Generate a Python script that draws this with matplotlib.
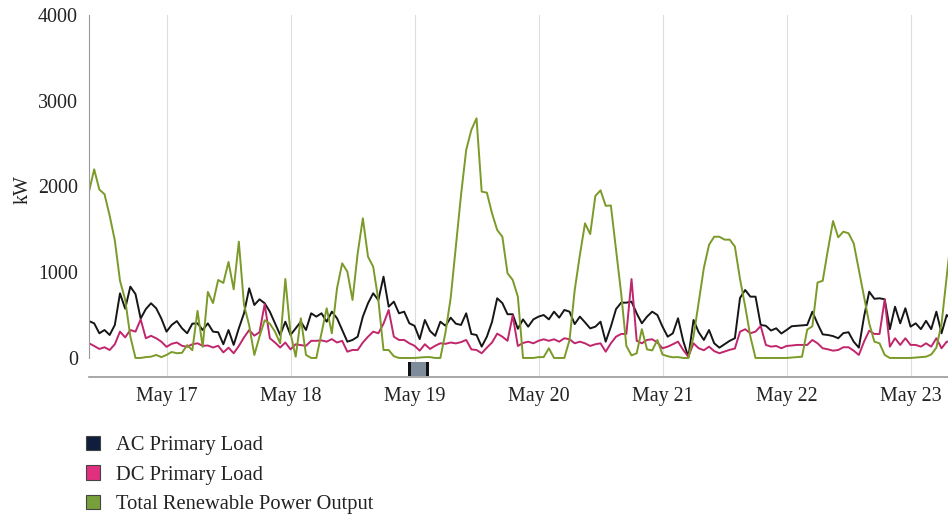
import matplotlib
matplotlib.use('Agg')
import matplotlib.pyplot as plt
import matplotlib.dates as mdates
from matplotlib.patches import Patch, Rectangle
import pandas as pd

# hourly readings, starting May 16 09:00
start = '2023-05-16 09:00'

ac_load = [430, 404, 288, 326, 268, 385, 754, 575, 832, 745,
           460, 570, 638, 580, 460, 307, 385, 430, 346, 288,
           400, 404, 326, 404, 307, 300, 160, 326, 152, 346,
           521, 812, 618, 684, 638, 540, 404, 268, 423, 268,
           346, 423, 326, 521, 482, 521, 423, 540, 463, 326,
           190, 210, 248, 482, 638, 754, 676, 948, 598, 657,
           521, 540, 404, 375, 220, 443, 315, 258, 423, 375,
           470, 400, 385, 521, 280, 268, 132, 248, 420, 696,
           640, 510, 510, 340, 450, 365, 450, 482, 501, 450,
           540, 470, 560, 540, 395, 482, 415, 345, 365, 423,
           190, 365, 570, 645, 645, 657, 520, 404, 482, 540,
           501, 365, 248, 288, 463, 200, 10, 443, 300, 210,
           326, 171, 120, 160, 200, 230, 700, 793, 715, 715,
           385, 375, 320, 346, 285, 326, 370, 375, 380, 385,
           540, 400, 275, 268, 255, 230, 290, 300, 190, 120,
           482, 773, 690, 696, 684, 336, 598, 404, 580, 365,
           404, 336, 433, 336, 540, 288, 501, 443]

dc_load = [171, 140, 105, 125, 93, 160, 307, 240, 326, 307,
           450, 230, 258, 230, 190, 130, 165, 180, 142, 130,
           160, 171, 142, 145, 122, 142, 65, 120, 55, 140,
           240, 326, 260, 300, 628, 230, 180, 122, 180, 100,
           160, 150, 142, 200, 200, 205, 190, 220, 180, 200,
           73, 94, 93, 180, 248, 307, 288, 400, 560, 248,
           210, 210, 171, 142, 85, 160, 105, 142, 171, 165,
           180, 170, 185, 210, 100, 93, 55, 120, 180, 284,
           248, 200, 495, 140, 175, 190, 171, 200, 218, 200,
           218, 190, 230, 218, 171, 190, 171, 140, 160, 171,
           73, 171, 248, 280, 280, 920, 200, 171, 210, 218,
           180, 113, 132, 160, 190, 93, 15, 171, 113, 90,
           132, 80, 55, 75, 95, 110, 307, 335, 288, 307,
           373, 152, 132, 140, 113, 140, 145, 152, 152, 152,
           210, 171, 113, 101, 85, 93, 125, 125, 85, 35,
           190, 318, 280, 280, 684, 132, 230, 152, 230, 152,
           152, 132, 171, 132, 230, 113, 190, 190]

renewable = [1940, 2200, 1965, 1910, 1660, 1370, 900, 680, 250, 0,
             0, 10, 15, 35, 10, 35, 70, 55, 60, 150,
             90, 550, 130, 770, 640, 910, 875, 1120, 800, 1356,
             620, 380, 35, 250, 440, 400, 307, 171, 921, 288,
             15, 463, 35, 0, 0, 288, 580, 288, 812, 1104,
             1006, 676, 1220, 1629, 1181, 1065, 676, 93, 93, 20,
             0, 0, 0, 0, 5, 10, 10, 0, 0, 300,
             700, 1300, 1900, 2425, 2660, 2795, 1940, 1928, 1687, 1493,
             1414, 988, 910, 715, 0, 0, 0, 10, 10, 113,
             0, 0, 0, 210, 790, 1200, 1570, 1445, 1890, 1955,
             1775, 1778, 1260, 750, 140, 30, 55, 336, 100, 88,
             210, 40, 20, 8, 10, 0, 0, 250, 650, 1050,
             1320, 1414, 1414, 1380, 1380, 1300, 920, 600, 250, 0,
             0, 0, 0, 0, 0, 0, 5, 10, 15, 330,
             370, 880, 900, 1259, 1597, 1407, 1473, 1454, 1337, 1026,
             715, 404, 190, 171, 35, 0, 0, 0, 0, 0,
             5, 10, 15, 40, 120, 400, 950, 1500]

series_names = ['AC Primary Load', 'DC Primary Load', 'Total Renewable Power Output']
line_colors = ['#161616', '#c0266c', '#7b9a28']
legend_colors = ['#0e1e3c', '#e0307f', '#77a03a']

times = pd.date_range(start, periods=len(ac_load), freq='h')

plt.rcParams['font.family'] = ['Liberation Serif', 'DejaVu Serif']
fs = 14.4

fig = plt.figure(figsize=(9.48, 5.17), dpi=100)
ax = fig.add_axes([89 / 948, 1 - 377 / 517, 859 / 948, 362 / 517])

for vals, c in zip([ac_load, dc_load, renewable], line_colors):
    ax.plot(times, vals, color=c, linewidth=1.4)

ax.set_ylim(-222, 4000)
ax.set_xlim(times[0], times[0] + pd.Timedelta(hours=166.25))
ax.set_yticks([0, 1000, 2000, 3000, 4000])
ax.xaxis.set_major_locator(mdates.DayLocator())
ax.xaxis.set_major_formatter(mdates.DateFormatter('%b %d'))
ax.tick_params(axis='both', length=0, labelsize=fs, colors='#222222')
ax.tick_params(axis='x', pad=7)
ax.tick_params(axis='y', pad=8)
ax.set_ylabel('kW', fontsize=fs, color='#222222')
ax.yaxis.set_label_coords(-0.066, 0.517)

ax.grid(axis='x', color='#dddddd', linewidth=0.8)
ax.set_axisbelow(True)
for s in ['top', 'right']:
    ax.spines[s].set_visible(False)
ax.spines['left'].set_color('#999999')
ax.spines['left'].set_bounds(0, 4000)
ax.spines['bottom'].set_color('#999999')
ax.spines['bottom'].set_linewidth(1.2)

# range slider handle under the axis
hx, hw, hy, hh = 0.3714, 0.0244, 0.003, 0.039
ax.add_patch(Rectangle((hx, hy), hw, hh, transform=ax.transAxes,
                       facecolor='#7d8b9a', edgecolor='none', clip_on=False))
for ex in [hx, hx + hw - 0.003]:
    ax.add_patch(Rectangle((ex, hy), 0.003, hh, transform=ax.transAxes,
                           facecolor='#111111', edgecolor='none', clip_on=False))

handles = [Patch(facecolor=c, edgecolor='#444444', linewidth=0.8, label=n)
           for c, n in zip(legend_colors, series_names)]
fig.legend(handles=handles, loc='upper left', bbox_to_anchor=(86 / 948, 1 - 436 / 517),
           frameon=False, fontsize=14.8, handlelength=0.7, handleheight=0.7,
           handletextpad=0.75, labelspacing=0.48, borderpad=0, borderaxespad=0,
           labelcolor='#222222')

fig.savefig('out.png', dpi=100)
